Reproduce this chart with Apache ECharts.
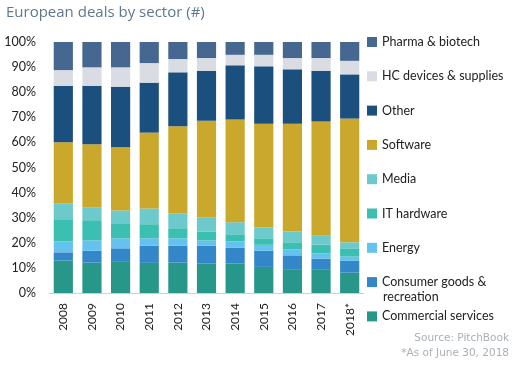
<!DOCTYPE html>
<html><head><meta charset="utf-8">
<script src="https://cdn.jsdelivr.net/npm/echarts@6/dist/echarts.min.js"></script>
<style>html,body{margin:0;padding:0;background:#fff}#c{width:514px;height:365px}</style>
</head><body><div id="c"></div>
<script>
const years = ['2008','2009','2010','2011','2012','2013','2014','2015','2016','2017','2018*'];
const yTicks = [0,10,20,30,40,50,60,70,80,90,100];
const commercial = [12.9,12.1,12.4,12.0,12.1,11.7,11.7,10.4,9.5,9.5,8.1];
const consumer   = [3.3,4.7,5.4,6.8,6.7,7.1,6.3,6.4,5.5,4.2,4.7];
const energy     = [4.4,4.2,4.0,3.0,3.0,2.1,2.6,2.4,2.4,2.1,1.7];
const itHardware = [8.8,8.0,6.0,5.6,4.0,3.5,2.8,2.6,2.8,3.5,3.3];
const media      = [6.3,5.1,5.1,6.3,5.9,5.7,4.8,4.3,4.3,3.5,2.4];
const software   = [24.4,25.2,25.2,30.2,34.7,38.5,40.9,41.3,42.9,45.5,49.3];
const other      = [22.5,23.3,24.1,19.9,21.5,19.9,21.6,22.9,21.7,20.2,17.6];
const hcDevices  = [6.2,7.3,7.7,7.8,5.3,5.1,4.2,4.6,4.5,5.1,5.4];
const pharma     = [11.2,10.1,10.1,8.4,6.8,6.4,5.1,5.1,6.4,6.4,7.5];

const seriesDefs = [
  ['Commercial services', commercial, '#27978a'],
  ['Consumer goods &', consumer, '#3387c9'],
  ['Energy', energy, '#65c2ee'],
  ['IT hardware', itHardware, '#3bbfb0'],
  ['Media', media, '#6ccacc'],
  ['Software', software, '#c9a82c'],
  ['Other', other, '#1b4f7d'],
  ['HC devices & supplies', hcDevices, '#d9dde3'],
  ['Pharma & biotech', pharma, '#46678f']
];
const legendOrder = ['Pharma & biotech','HC devices & supplies','Other','Software','Media','IT hardware','Energy','Consumer goods &','Commercial services'];
const font = 'Lato';
const chart = echarts.init(document.getElementById('c'), null, {renderer:'canvas'});
chart.setOption({
  animation:false,
  textStyle:{fontFamily:font},
  title:{text:'European deals by sector (#)', left:1, top:0,
    textStyle:{fontFamily:'Open Sans', fontSize:15, fontWeight:'normal', color:'#5e7891'}},
  grid:{left:49, right:150, top:42, bottom:72, containLabel:false},
  legend:{orient:'vertical', left:362, top:30, itemWidth:10, itemHeight:10, itemGap:20.3,
    icon:'rect', data:legendOrder,
    textStyle:{fontFamily:font, fontSize:12.5, color:'#222', lineHeight:14}},
  xAxis:{type:'category', data:years,
    axisLine:{lineStyle:{color:'#d0d0d0'}}, axisTick:{show:false},
    axisLabel:{rotate:90, fontSize:12, color:'#222', margin:10, fontFamily:font}},
  yAxis:{type:'value', min:0, max:100, interval:10,
    axisLine:{show:false}, axisTick:{show:false}, splitLine:{show:false},
    axisLabel:{formatter: v => yTicks.includes(v) ? v+'%' : '', fontSize:12.5, color:'#222', margin:13, fontFamily:font}},
  series: seriesDefs.map(([n,d,c]) => ({name:n, type:'bar', stack:'s', data:d, barCategoryGap:'33%',
    itemStyle:{color:c}, emphasis:{disabled:true}})),
  graphic:[
    {type:'text', left:383, top:290, style:{text:'recreation', font:'12.5px Lato', fill:'#222'}},
    {type:'text', right:5, top:333, style:{text:'Source: PitchBook', font:'10.5px "DejaVu Sans"', fill:'#a8b0b8', textAlign:'right'}},
    {type:'text', right:5, top:348, style:{text:'*As of June 30, 2018', font:'10.5px "DejaVu Sans"', fill:'#a8b0b8', textAlign:'right'}}
  ]
});
</script></body></html>
